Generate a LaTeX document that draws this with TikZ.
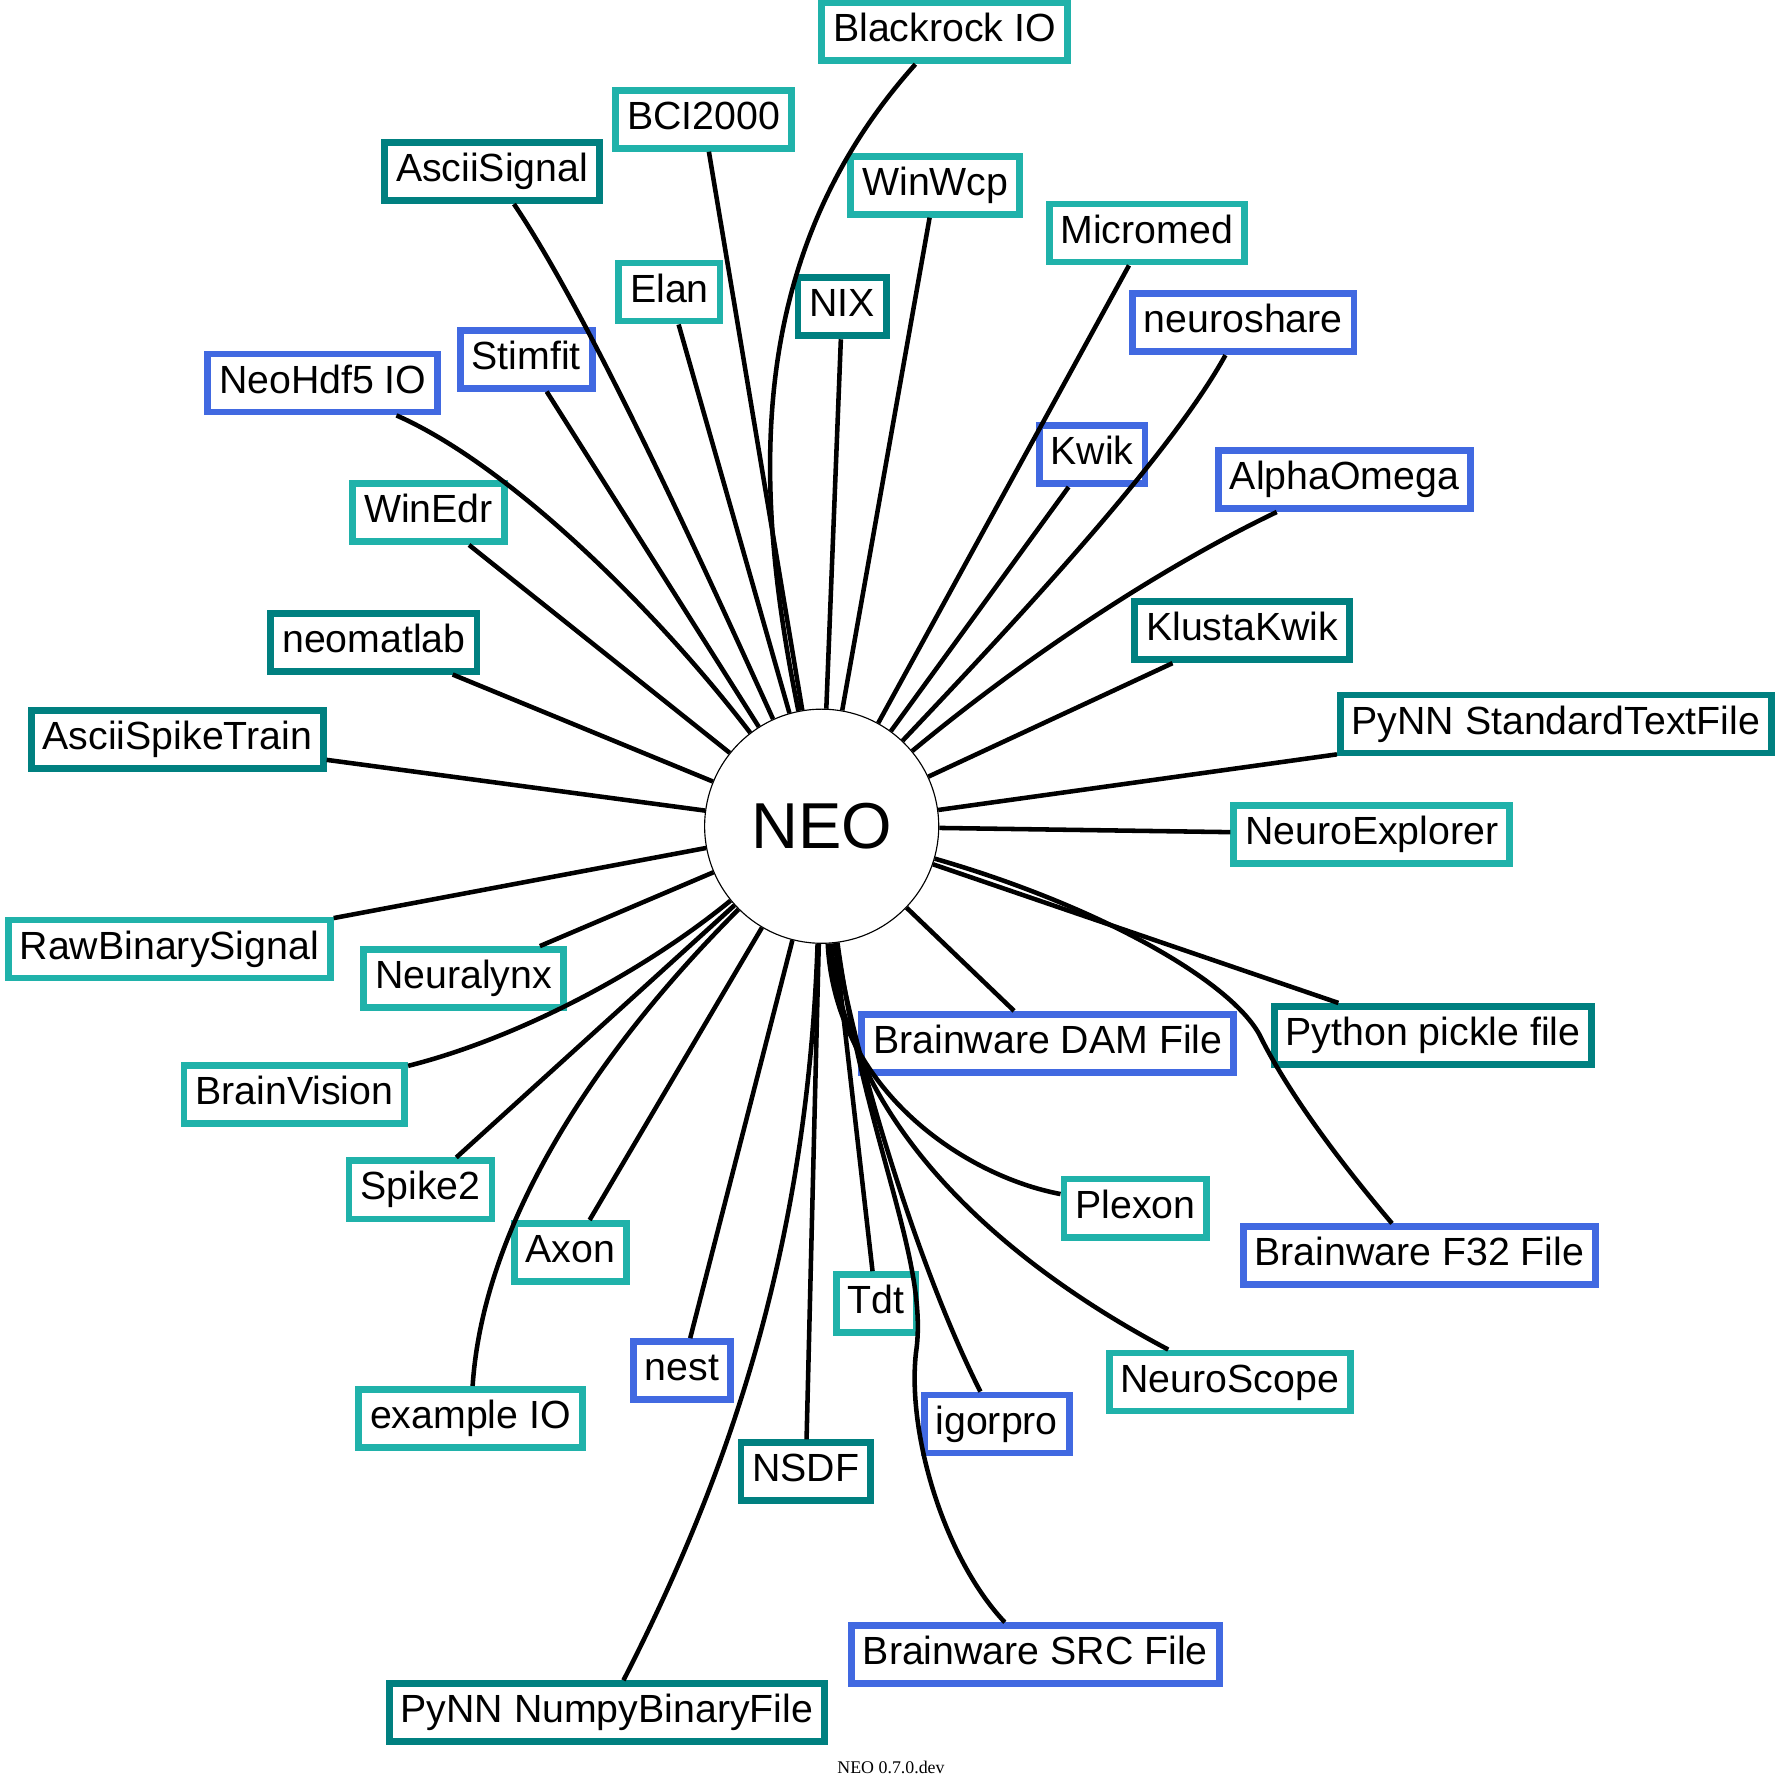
\documentclass[tikz,border=0pt]{standalone}
\usepackage{fontspec}
\setmainfont{Liberation Sans}
\newfontfamily\footfont{Liberation Serif}
\usetikzlibrary{positioning}

\definecolor{lseagreen}{HTML}{20B2AA}
\definecolor{dteal}{HTML}{008080}
\definecolor{rblue}{HTML}{4169E1}

\tikzset{
  iobox/.style={draw, rectangle, fill=white, line width=2.1pt, inner xsep=3.5pt,
    minimum height=16.9pt, text height=8.7pt, text depth=2.5pt,
    font=\fontsize{12.1}{14}\selectfont},
  iolite/.style={iobox, draw=lseagreen},
  iodark/.style={iobox, draw=dteal},
  ioblue/.style={iobox, draw=rblue},
  link/.style={line width=1.4pt}
}

\begin{document}
\begin{tikzpicture}[x=0.35pt, y=-0.35pt]
    \useasboundingbox (0,0) rectangle (1568,1568);

    \node[circle, draw, line width=0.35pt, minimum size=72.1pt, inner sep=0pt,
      font=\fontsize{20}{24}\selectfont] (neo) at (723,727) {NEO};

    \node[iolite] (blackrock) at (831,28) {Blackrock IO};
    \node[iolite] (bci) at (619,105) {BCI2000};
    \node[iodark] (asciisignal) at (433,151) {AsciiSignal};
    \node[iolite] (winwcp) at (823,163) {WinWcp};
    \node[iolite] (micromed) at (1009,205) {Micromed};
    \node[iolite] (elan) at (589,257) {Elan};
    \node[iodark] (nix) at (741,270) {NIX};
    \node[ioblue] (neuroshare) at (1094,284) {neuroshare};
    \node[ioblue] (stimfit) at (463,316) {Stimfit};
    \node[ioblue] (neohdf) at (284,337) {NeoHdf5 IO};
    \node[ioblue] (kwik) at (961,400) {Kwik};
    \node[ioblue] (alphaomega) at (1183,422) {AlphaOmega};
    \node[iolite] (winedr) at (377,451) {WinEdr};
    \node[iodark] (klustakwik) at (1093,555) {KlustaKwik};
    \node[iodark] (neomatlab) at (329,565) {neomatlab};
    \node[iodark] (asciispike) at (156,651) {AsciiSpikeTrain};
    \node[iodark] (pynntext) at (1369,637) {PyNN StandardTextFile};
    \node[iolite] (neuroexplorer) at (1207,734) {NeuroExplorer};
    \node[iolite] (rawbinary) at (149,835) {RawBinarySignal};
    \node[iolite] (neuralynx) at (408,861) {Neuralynx};
    \node[ioblue] (dam) at (922,918) {Brainware DAM File};
    \node[iodark] (pickle) at (1261,911) {Python pickle file};
    \node[iolite] (brainvision) at (259,963) {BrainVision};
    \node[iolite] (spike2) at (370,1047) {Spike2};
    \node[iolite] (plexon) at (999,1063) {Plexon};
    \node[iolite] (axon) at (502,1102) {Axon};
    \node[ioblue] (f32) at (1249,1105) {Brainware F32 File};
    \node[iolite] (tdt) at (771,1147) {Tdt};
    \node[ioblue] (nest) at (600,1206) {nest};
    \node[iolite] (neuroscope) at (1082,1216) {NeuroScope};
    \node[iolite] (exampleio) at (414,1248) {example IO};
    \node[ioblue] (igorpro) at (877,1253) {igorpro};
    \node[iodark] (nsdf) at (709,1295) {NSDF};
    \node[ioblue] (src) at (911,1456) {Brainware SRC File};
    \node[iodark] (pynnnumpy) at (534,1507) {PyNN NumpyBinaryFile};

    \node[font=\footfont\fontsize{5.5}{6}\selectfont] (version) at (784,1555) {NEO 0.7.0.dev};

    \draw[link] (neo) .. controls (665,440) and (650,230) .. (blackrock);
    \draw[link] (neo) -- (bci);
    \draw[link] (neo) .. controls (620,500) and (520,280) .. (asciisignal);
    \draw[link] (neo) -- (winwcp);
    \draw[link] (neo) -- (micromed);
    \draw[link] (neo) -- (elan);
    \draw[link] (neo) -- (nix);
    \draw[link] (neo) .. controls (900,540) and (1030,400) .. (neuroshare);
    \draw[link] (neo) -- (stimfit);
    \draw[link] (neo) .. controls (580,540) and (450,410) .. (neohdf);
    \draw[link] (neo) -- (kwik);
    \draw[link] (neo) .. controls (900,580) and (1020,500) .. (alphaomega);
    \draw[link] (neo) -- (winedr);
    \draw[link] (neo) -- (klustakwik);
    \draw[link] (neo) -- (neomatlab);
    \draw[link] (neo) -- (asciispike);
    \draw[link] (neo) -- (pynntext);
    \draw[link] (neo) -- (neuroexplorer);
    \draw[link] (neo) -- (rawbinary);
    \draw[link] (neo) -- (neuralynx);
    \draw[link] (neo) -- (dam);
    \draw[link] (neo) -- (pickle);
    \draw[link] (neo) .. controls (560,860) and (450,915) .. (brainvision);
    \draw[link] (neo) -- (spike2);
    \draw[link] (neo) .. controls (735,960) and (850,1035) .. (plexon);
    \draw[link] (neo) -- (axon);
    \draw[link] (neo) .. controls (960,795) and (1080,860) .. (1108,910)
      .. controls (1125,945) and (1160,1000) .. (f32);
    \draw[link] (neo) -- (tdt);
    \draw[link] (neo) -- (nest);
    \draw[link] (neo) .. controls (745,1000) and (900,1120) .. (neuroscope);
    \draw[link] (neo) .. controls (520,930) and (425,1080) .. (exampleio);
    \draw[link] (neo) .. controls (745,900) and (800,1100) .. (igorpro);
    \draw[link] (neo) -- (nsdf);
    \draw[link] (neo) .. controls (760,1000) and (818,1110) .. (806,1190)
      .. controls (798,1260) and (830,1370) .. (src);
    \draw[link] (neo) .. controls (710,1100) and (640,1300) .. (pynnnumpy);
\end{tikzpicture}
\end{document}
